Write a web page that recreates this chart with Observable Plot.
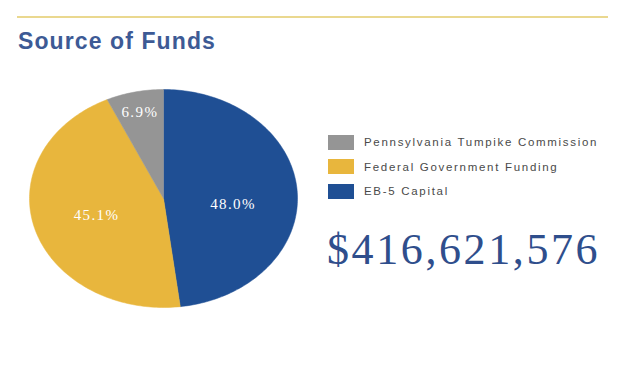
<!DOCTYPE html>
<html>
<head>
<meta charset="utf-8">
<script src="https://cdn.jsdelivr.net/npm/d3@7"></script>
<script src="https://cdn.jsdelivr.net/npm/@observablehq/plot@0.6"></script>
<style>
  html, body { margin: 0; padding: 0; background: #fff; }
  #page { position: relative; width: 630px; height: 380px; overflow: hidden; font-family: "Liberation Sans", Arial, sans-serif; }
  #rule { position: absolute; left: 17px; top: 16px; width: 591px; height: 2px; background: #ead88f; }
  #title { position: absolute; left: 18px; top: 28px; font-size: 23px; font-weight: bold; color: #3d5a95; letter-spacing: 1.1px; white-space: nowrap; }
  #chart { position: absolute; left: 0; top: 80px; }
  #legend { position: absolute; left: 328px; top: 130px; width: 300px; }
  .row { display: flex; align-items: center; height: 24.5px; }
  .sw { flex: 0 0 26px; width: 26px; height: 15px; margin-right: 10px; }
  .lab { font-size: 11.5px; color: #4a4a4a; letter-spacing: 1.7px; white-space: nowrap; }
  #total { position: absolute; left: 327px; top: 224px; font-family: "Liberation Serif", "Times New Roman", serif; font-size: 44px; color: #2f4e8c; letter-spacing: 2.6px; white-space: nowrap; }
</style>
</head>
<body>
<div id="page">
  <div id="rule"></div>
  <div id="title">Source of Funds</div>
  <div id="chart"></div>
  <div id="legend"></div>
  <div id="total"></div>
</div>
<script>
// Data
const categories = ["EB-5 Capital", "Federal Government Funding", "Pennsylvania Tumpike Commission"];
const shares = [48.0, 45.1, 6.9];
const colors = ["#1f4f94", "#e8b63d", "#959595"];
const legendOrder = ["Pennsylvania Tumpike Commission", "Federal Government Funding", "EB-5 Capital"];
const totalLabel = "$416,621,576";

// Build slice polygons (clockwise from top) from shares
const total = d3.sum(shares);
const rows = [];
const labels = [];
let start = 0;
categories.forEach((c, i) => {
  const a0 = start / total * 2 * Math.PI;
  const a1 = (start + shares[i]) / total * 2 * Math.PI;
  const n = Math.max(4, Math.ceil((a1 - a0) / 0.02));
  rows.push({cat: c, x: 0, y: 0});
  for (let k = 0; k <= n; k++) {
    const a = a0 + (a1 - a0) * k / n;
    rows.push({cat: c, x: Math.sin(a), y: Math.cos(a)});
  }
  rows.push({cat: c, x: 0, y: 0});
  const am = (a0 + a1) / 2;
  const r = shares[i] < 10 ? 0.82 : 0.52;
  labels.push({cat: c, x: r * Math.sin(am), y: r * Math.cos(am), text: shares[i].toFixed(1) + "%"});
  start += shares[i];
});
const outline = d3.range(0, 361, 2).map(d => ({x: Math.sin(d * Math.PI / 180), y: Math.cos(d * Math.PI / 180)}));

const labelStyle = {x: "x", y: "y", text: "text", fill: "white", fontSize: 15, fontFamily: "Liberation Serif, Times New Roman, serif"};

const plot = Plot.plot({
  width: 320,
  height: 240,
  margin: 0,
  x: {domain: [-1, 1], range: [29, 297], axis: null},
  y: {domain: [-1, 1], range: [227, 9], axis: null},
  color: {domain: categories, range: colors},
  marks: [
    Plot.line(outline, {x: d => d.x + 0.03, y: d => d.y - 0.045, fill: "#9a9a9a", stroke: "none", ariaLabel: "shadow"}),
    Plot.line(rows, {x: "x", y: "y", z: "cat", fill: "cat", stroke: "cat", strokeWidth: 0.5}),
    Plot.text(labels.filter(d => d.cat !== "EB-5 Capital"), {...labelStyle, dy: 1}),
    Plot.text(labels.filter(d => d.cat === "EB-5 Capital"), {...labelStyle, dy: 9})
  ]
});

// soft shadow and label spacing
const svg = d3.select(plot);
const defs = svg.insert("defs", ":first-child");
defs.append("filter").attr("id", "blur").attr("x", "-20%").attr("y", "-20%").attr("width", "140%").attr("height", "140%")
  .append("feGaussianBlur").attr("stdDeviation", 3);
svg.select('[aria-label="shadow"]').attr("filter", "url(#blur)").attr("opacity", 0.8);
svg.selectAll("text").style("letter-spacing", "1.4px");

document.getElementById("chart").appendChild(plot);

// legend
const color = d3.scaleOrdinal(categories, colors);
const legend = d3.select("#legend");
legendOrder.forEach(c => {
  const row = legend.append("div").attr("class", "row");
  row.append("div").attr("class", "sw").style("background", color(c));
  row.append("div").attr("class", "lab").text(c);
});
document.getElementById("total").textContent = totalLabel;
</script>
</body>
</html>
